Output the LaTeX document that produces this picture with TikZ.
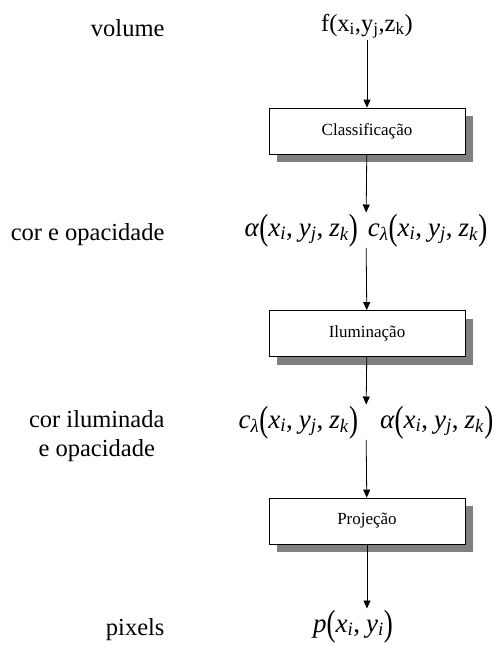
\documentclass[tikz,border=0pt]{standalone}
\usepackage{fontspec}
\setmainfont{Liberation Serif}
\usepackage{tikz}
\usetikzlibrary{arrows.meta,shadows}
\usepackage{xcolor}
\definecolor{shadowgray}{HTML}{808080}

% pieces of the formulas
\newcommand{\iv}[1]{\textit{#1}}
\newcommand{\isub}[1]{\textsubscript{\textit{#1}}}
\newcommand{\bigparen}[1]{\raisebox{-3pt}{\scalebox{1.0}[1.35]{#1}}}
\newcommand{\sep}{,\hspace{6pt}}
\newcommand{\xyz}{\bigparen{(}\iv{x}\isub{i}\sep\iv{y}\isub{j}\sep\iv{z}\isub{k}\bigparen{)}}

\begin{document}
\begin{tikzpicture}[x=1pt, y=-1pt, >={Triangle[length=8pt,width=7pt]},
    every node/.style={font=\fontsize{24.5}{29}\selectfont},
    formula/.style={anchor=base, inner sep=1pt, font=\fontsize{27}{30}\selectfont},
    stage/.style={draw, line width=0.8pt, fill=white, minimum width=196pt, minimum height=46pt,
        font=\fontsize{17}{19}\selectfont,
        drop shadow={shadow xshift=8pt, shadow yshift=-8pt, fill=shadowgray, opacity=1}}]
    \useasboundingbox (0,0) rectangle (493,646);

    % Labels on the left
    \node[anchor=base east] (lvol) at (168,36) {volume};
    \node[anchor=base east] (lcor) at (168,240) {cor e opacidade};
    \node[anchor=east, align=center] (lilu) at (168,436) {cor iluminada\\e opacidade};
    \node[anchor=base east] (lpix) at (168,635) {pixels};

    % Data along the pipeline
    \node[anchor=base, inner sep=1pt] (vol) at (367,31) {f(x\textsubscript{i},y\textsubscript{j},z\textsubscript{k})};
    \node[formula] (row1) at (366,236) {\iv{α}\xyz\hspace{10pt}\iv{c}\isub{λ}\xyz};
    \node[formula] (row2) at (366,428) {\iv{c}\isub{λ}\xyz\hspace{22pt}\iv{α}\xyz};
    \node[formula] (pix) at (353,632) {\iv{p}\bigparen{(}\iv{x}\isub{i}\sep\iv{y}\isub{i}\bigparen{)}};

    % Stages
    \node[stage] (cls) at (367,131) {Classificação};
    \node[stage] (ilu) at (367,333.5) {Iluminação};
    \node[stage] (proj) at (367,521) {Projeção};

    % Flow
    \draw[->, line width=0.8pt] (vol) -- (cls);
    \draw[->, line width=0.8pt] (cls) -- (row1);
    \draw[->, line width=0.8pt] (row1) -- (ilu);
    \draw[->, line width=0.8pt] (ilu) -- (row2);
    \draw[->, line width=0.8pt] (row2) -- (proj);
    \draw[->, line width=0.8pt] (proj) -- (proj |- pix.north);
\end{tikzpicture}
\end{document}
